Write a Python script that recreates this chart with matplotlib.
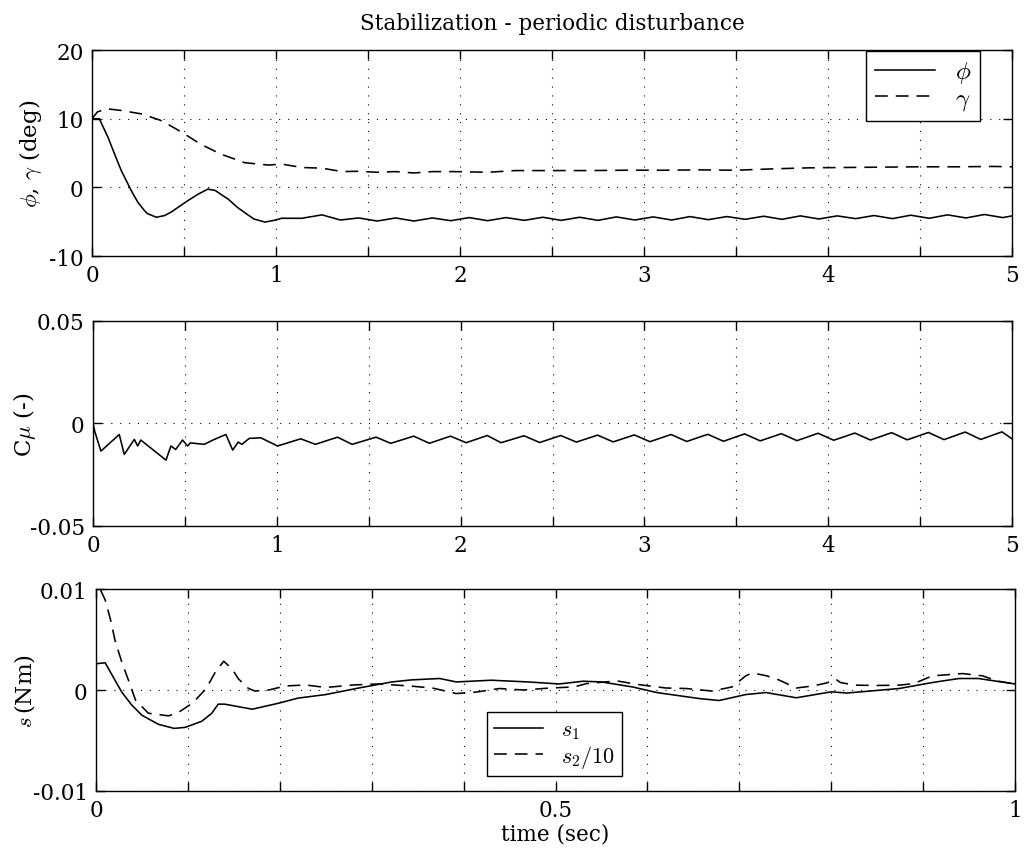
import matplotlib
matplotlib.use('Agg')
import matplotlib.pyplot as plt

# top panel: roll angle phi and gamma (deg)
t_phi = [0, 0.04, 0.087, 0.123, 0.16, 0.178, 0.214, 0.25, 0.286, 0.30, 0.35, 0.395, 0.43, 0.52,
         0.576, 0.63, 0.67, 0.70, 0.74, 0.79, 0.85, 0.88, 0.94, 0.99,
         1.03, 1.14, 1.25, 1.35, 1.45, 1.55, 1.65, 1.75, 1.85, 1.95, 2.05, 2.15, 2.25, 2.35,
         2.45, 2.55, 2.65, 2.75, 2.85, 2.95, 3.05, 3.15, 3.25, 3.35, 3.45, 3.55, 3.65, 3.75,
         3.85, 3.95, 4.05, 4.15, 4.25, 4.35, 4.45, 4.55, 4.65, 4.75, 4.85, 4.95, 5.0]
phi = [10.0, 10.0, 7.3, 4.85, 2.4, 1.45, -0.5, -2.2, -3.4, -3.8, -4.35, -4.1, -3.6, -1.95,
       -1.0, -0.25, -0.45, -1.0, -1.7, -2.9, -4.05, -4.6, -5.05, -4.8,
       -4.5, -4.5, -4.0, -4.75, -4.45, -4.9, -4.45, -4.9, -4.45, -4.85, -4.4, -4.85, -4.4, -4.8,
       -4.35, -4.8, -4.35, -4.8, -4.3, -4.75, -4.3, -4.75, -4.25, -4.7, -4.25, -4.65, -4.2, -4.65,
       -4.15, -4.6, -4.15, -4.55, -4.1, -4.55, -4.05, -4.5, -4.0, -4.45, -3.95, -4.4, -4.15]

t_gam = [0, 0.03, 0.08, 0.16, 0.27, 0.38, 0.49, 0.59, 0.70, 0.83, 0.96, 1.03, 1.14, 1.25, 1.36,
         1.45, 1.55, 1.65, 1.75, 1.85, 1.97, 2.15, 2.3, 2.5, 2.7, 2.9, 3.1, 3.3, 3.5, 3.7, 3.9,
         4.1, 4.3, 4.5, 4.7, 4.9, 5.0]
gam = [10.0, 11.0, 11.45, 11.2, 10.7, 9.7, 8.0, 6.3, 4.85, 3.6, 3.25, 3.4, 2.9, 2.8, 2.3,
       2.35, 2.2, 2.3, 2.1, 2.3, 2.3, 2.2, 2.45, 2.45, 2.45, 2.5, 2.5, 2.55, 2.5, 2.7, 2.85,
       2.9, 2.95, 3.0, 3.0, 3.05, 3.0]

# middle panel: C_mu
t_cmu = [0, 0.01, 0.043, 0.143, 0.17, 0.225, 0.243, 0.26, 0.397, 0.424, 0.45, 0.487, 0.515, 0.53,
         0.605, 0.66, 0.723, 0.76, 0.79, 0.81, 0.85, 0.913, 1.004, 1.13, 1.21, 1.33, 1.41, 1.54,
         1.62, 1.745, 1.83, 1.945, 2.03, 2.145, 2.22, 2.345, 2.43, 2.545, 2.63, 2.745, 2.83,
         2.945, 3.03, 3.145, 3.23, 3.345, 3.43, 3.545, 3.63, 3.745, 3.83, 3.945, 4.03, 4.145,
         4.23, 4.345, 4.43, 4.545, 4.63, 4.745, 4.83, 4.945, 5.0]
cmu = [0.0, -0.004, -0.0135, -0.0054, -0.0151, -0.0078, -0.011, -0.0081, -0.0179, -0.011,
       -0.0127, -0.0081, -0.011, -0.0095, -0.0102, -0.0078, -0.0054, -0.013, -0.0091, -0.0102,
       -0.0073, -0.007, -0.011, -0.0075, -0.0102, -0.0067, -0.0102, -0.0067, -0.0097, -0.0062,
       -0.0097, -0.0062, -0.0094, -0.0059, -0.0094, -0.006, -0.0093, -0.0059, -0.0091, -0.0057,
       -0.009, -0.0056, -0.0089, -0.0054, -0.0088, -0.0053, -0.0087, -0.0051, -0.0085, -0.005,
       -0.0084, -0.0048, -0.0082, -0.0047, -0.0081, -0.0045, -0.008, -0.0044, -0.0079, -0.0042,
       -0.0078, -0.0041, -0.0075]

# bottom panel: sliding surfaces
t_s1 = [0, 0.01, 0.0174, 0.028, 0.039, 0.05, 0.068, 0.085, 0.097, 0.115, 0.126, 0.133, 0.14,
        0.17, 0.199, 0.22, 0.25, 0.286, 0.322, 0.343, 0.374, 0.392, 0.43, 0.47, 0.504, 0.53,
        0.55, 0.584, 0.61, 0.656, 0.678, 0.707, 0.729, 0.762, 0.80, 0.817, 0.874, 0.91, 0.939,
        0.96, 1.0]
s1 = [0.0026, 0.0027, 0.0015, -0.0002, -0.0015, -0.0025, -0.0034, -0.0038, -0.0037, -0.0031,
      -0.0023, -0.0014, -0.0014, -0.0019, -0.0013, -0.0008, -0.00045, 0.0002, 0.0008, 0.001,
      0.00114, 0.0008, 0.00097, 0.0008, 0.0006, 0.00087, 0.0008, 0.0003, -0.00025, -0.00084,
      -0.00104, -0.00045, -0.00025, -0.00077, -0.00018, -0.0003, 0.00015, 0.00074, 0.00114,
      0.00114, 0.0006]

t_s2 = [0.005, 0.0101, 0.016, 0.021, 0.028, 0.036, 0.043, 0.057, 0.079, 0.09, 0.105, 0.12, 0.13,
        0.139, 0.148, 0.155, 0.166, 0.173, 0.188, 0.206, 0.228, 0.25, 0.28, 0.307, 0.341,
        0.366, 0.392, 0.414, 0.439, 0.465, 0.494, 0.52, 0.534, 0.567, 0.59, 0.62, 0.642, 0.67,
        0.692, 0.707, 0.714, 0.73, 0.743, 0.762, 0.78, 0.795, 0.805, 0.81, 0.826, 0.85, 0.874,
        0.89, 0.91, 0.943, 0.965, 0.98, 1.0]
s2 = [0.0099, 0.0089, 0.0069, 0.0048, 0.0028, 0.0008, -0.001, -0.0023, -0.00256, -0.0022,
      -0.0013, 0.00015, 0.0018, 0.00285, 0.0021, 0.0011, 0.00015, -0.0001, 0.0, 0.0004, 0.0005,
      0.00025, 0.0005, 0.0006, 0.0004, 0.0002, -0.00035, -0.0002, 0.00015, 0.0, 0.0002, 0.0003,
      0.00064, 0.0009, 0.00054, 0.0002, 0.00015, -0.0001, 0.0003, 0.0014, 0.0017, 0.0014, 0.001,
      0.0002, 0.0004, 0.0007, 0.00107, 0.00074, 0.00048, 0.00045, 0.00048, 0.00064, 0.0014,
      0.00163, 0.0014, 0.0009, 0.0006]

plt.rcParams['font.family'] = ['DejaVu Serif']
plt.rcParams['mathtext.fontset'] = 'cm'
plt.rcParams['font.size'] = 15.5
plt.rcParams['axes.labelsize'] = 16.5
plt.rcParams['axes.linewidth'] = 1.0

grid_style = dict(color='black', linestyle=(0, (1, 7)), linewidth=0.8)
dash = (0, (8, 5))


def style_axes(ax, xticks, xlabels, yticks, ylabels):
    ax.set_xticks(xticks)
    ax.set_xticklabels(xlabels)
    ax.set_yticks(yticks)
    ax.set_yticklabels(ylabels)
    ax.tick_params(direction='in', length=6.5, width=1.0, top=True, right=True, pad=6)
    ax.grid(True, **grid_style)


fig = plt.figure(figsize=(10.31, 8.54), dpi=100)

ax1 = fig.add_axes([0.0892, 0.699, 0.8924, 0.2412])
ax1.plot(t_phi, phi, 'k-', lw=1.15, label=r'$\phi$')
ax1.plot(t_gam, gam, 'k', lw=1.15, linestyle=dash, label=r'$\gamma$')
ax1.set_xlim(0, 5)
ax1.set_ylim(-10, 20)
xt = [i * 0.5 for i in range(11)]
style_axes(ax1, xt, [str(int(v)) if v == int(v) else '' for v in xt],
           [-10, 0, 10, 20], ['-10', '0', '10', '20'])
ax1.set_ylabel(r'$\phi$, $\gamma$ (deg)')
ax1.yaxis.set_label_coords(-0.052, 0.5)
ax1.set_title('Stabilization - periodic disturbance', pad=15, fontsize=15.5)
leg = ax1.legend(loc='upper right', bbox_to_anchor=(0.965, 0.997), borderaxespad=0,
                 fancybox=False, edgecolor='black', framealpha=1, fontsize=18,
                 handlelength=2.4, labelspacing=0.05, borderpad=0.35)
leg.get_frame().set_linewidth(1.0)

ax2 = fig.add_axes([0.0902, 0.383, 0.8914, 0.240])
ax2.plot(t_cmu, cmu, 'k-', lw=1.15)
ax2.set_xlim(0, 5)
ax2.set_ylim(-0.05, 0.05)
style_axes(ax2, xt, [str(int(v)) if v == int(v) else '' for v in xt],
           [-0.05, 0, 0.05], ['-0.05', '0', '0.05'])
ax2.set_ylabel(r'C$\mu$ (-)')
ax2.yaxis.set_label_coords(-0.060, 0.5)

ax3 = fig.add_axes([0.0931, 0.0726, 0.8914, 0.2365])
ax3.plot(t_s1, s1, 'k-', lw=1.15, label=r'$s_1$')
ax3.plot(t_s2, s2, 'k', lw=1.15, linestyle=dash, label=r'$s_2/10$')
ax3.set_xlim(0, 1)
ax3.set_ylim(-0.01, 0.01)
xt3 = [i * 0.1 for i in range(11)]
lab3 = ['0', '', '', '', '', '0.5', '', '', '', '', '1']
style_axes(ax3, xt3, lab3, [-0.01, 0, 0.01], ['-0.01', '0', '0.01'])
ax3.set_ylabel(r'$s\,$(Nm)')
ax3.yaxis.set_label_coords(-0.064, 0.5)
ax3.set_xlabel('time (sec)', labelpad=1, fontsize=15.5)
leg3 = ax3.legend(loc='upper left', bbox_to_anchor=(0.426, 0.391), borderaxespad=0,
                  fancybox=False, edgecolor='black', framealpha=1, fontsize=16,
                  handlelength=2.2, labelspacing=0.05, borderpad=0.3)
leg3.get_frame().set_linewidth(1.0)

plt.savefig('out.png', dpi=100)
plt.close()
